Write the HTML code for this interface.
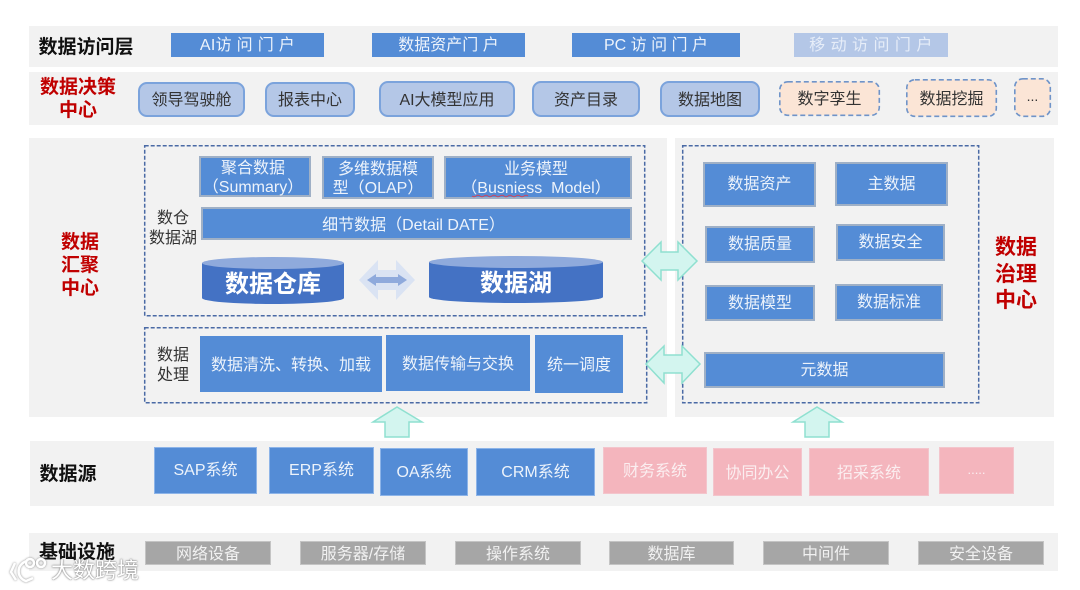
<!DOCTYPE html>
<html lang="zh-CN">
<head>
<meta charset="utf-8">
<title>数据架构图</title>
<style>
html,body{margin:0;padding:0;background:#fff}
#p{position:relative;width:1080px;height:590px;overflow:hidden;background:#fff;font-family:"Liberation Sans","Noto Sans CJK SC",sans-serif;filter:blur(.35px)}
#p div{position:absolute;box-sizing:border-box}
.bg{background:#f2f2f2}
.b,.g,.r,.pill,.dash,.lab,.t{display:flex;align-items:center;justify-content:center;text-align:center;white-space:nowrap}
.b{background:#548cd6;color:#edf3fb;font-size:16px;line-height:19px}
.gb{border:2px solid #9fb0c6}
.lb{border:1px solid #8db4e8}
.r{background:#f4b5bd;color:#fbeef0;font-size:16px;border:1px solid #f3c5cc;padding-bottom:3px}
.g{background:#a6a6a6;color:#f1f1f1;font-size:16px;border:1px solid #c4c4c4;padding-bottom:2px}
.pill{background:#b4c7e7;color:#333;font-size:16px;border:2px solid #7ba3dc;border-radius:9px;padding-bottom:3px}
.dash{color:#333;font-size:16px;padding-bottom:3px}
.lab{font-weight:700;line-height:23px}
.t{color:#333;font-size:16px;line-height:20px}
svg{position:absolute;left:0;top:0}
</style>
</head>
<body>
<div id="p">
<div class="bg" style="left:29px;top:26px;width:1029px;height:41px"></div>
<div class="bg" style="left:29px;top:72px;width:1029px;height:53px"></div>
<div class="bg" style="left:29px;top:138px;width:638px;height:279px"></div>
<div class="bg" style="left:675px;top:138px;width:379px;height:279px"></div>
<div class="bg" style="left:30px;top:441px;width:1024px;height:65px"></div>
<div class="bg" style="left:29px;top:533px;width:1029px;height:38px"></div>

<svg width="1080" height="590" viewBox="0 0 1080 590">
  <g fill="#fbe5d6" stroke="#6f94c9" stroke-width="1.600" stroke-dasharray="5 3">
    <rect x="779.800" y="81.800" width="99.500" height="33.500" rx="8"/>
    <rect x="906.800" y="79.800" width="89.500" height="36.500" rx="8"/>
    <rect x="1014.800" y="78.800" width="35.500" height="37.500" rx="8"/>
  </g>
  <g fill="none" stroke="#4a6aa5" stroke-width="1.500" stroke-dasharray="4 2">
    <rect x="144.700" y="145.700" width="500" height="170"/>
    <rect x="144.700" y="327.700" width="502" height="75"/>
    <rect x="682.700" y="145.700" width="296" height="257"/>
  </g>
</svg>

<div class="lab" style="left:29px;top:34px;width:114px;height:26px;font-size:19px;color:#111">数据访问层</div>
<div class="b" style="left:171px;top:33px;width:153px;height:24px;letter-spacing:.3px">AI访 问 门 户</div>
<div class="b" style="left:372px;top:33px;width:153px;height:24px">数据资产门 户</div>
<div class="b" style="left:572px;top:33px;width:168px;height:24px">PC 访 问 门 户</div>
<div class="b" style="left:794px;top:33px;width:154px;height:24px;background:#b4c7e7;color:#e6edf8;letter-spacing:.5px">移 动 访 问 门 户</div>

<div class="lab" style="left:29px;top:75px;width:98px;height:48px;font-size:19px;color:#c00000">数据决策<br>中心</div>
<div class="pill" style="left:138px;top:82px;width:107px;height:35px">领导驾驶舱</div>
<div class="pill" style="left:265px;top:82px;width:90px;height:35px">报表中心</div>
<div class="pill" style="left:379px;top:81px;width:136px;height:36px">AI大模型应用</div>
<div class="pill" style="left:532px;top:81px;width:108px;height:36px">资产目录</div>
<div class="pill" style="left:660px;top:81px;width:100px;height:36px">数据地图</div>
<div class="dash" style="left:779px;top:81px;width:101px;height:35px">数字孪生</div>
<div class="dash" style="left:906px;top:79px;width:91px;height:38px">数据挖掘</div>
<div class="dash" style="left:1014px;top:78px;width:37px;height:39px;font-size:14px">...</div>

<div class="lab" style="left:50px;top:231px;width:60px;height:69px;font-size:19px;color:#c00000">数据<br>汇聚<br>中心</div>
<div class="t" style="left:146px;top:209px;width:54px;height:40px">数仓<br>数据湖</div>
<div class="t" style="left:150px;top:346px;width:46px;height:40px">数据<br>处理</div>

<div class="b gb" style="left:199px;top:156px;width:112px;height:41px;padding:2px 4px 0 0">聚合数据<br>（Summary）</div>
<div class="b gb" style="left:322px;top:156px;width:112px;height:43px;padding-top:2px">多维数据模<br>型（OLAP）</div>
<div class="b gb" style="left:444px;top:156px;width:188px;height:43px;padding:2px 4px 0 0">业务模型<br>（Busniess&nbsp; Model）</div>
<div class="b gb" style="left:201px;top:207px;width:431px;height:33px;padding:3px 6px 0 0">细节数据（Detail DATE）</div>

<svg width="1080" height="590" viewBox="0 0 1080 590">
  <path d="M202 263 V298 A71 6 0 0 0 344 298 V263 Z" fill="#4472c4"/>
  <ellipse cx="273" cy="263" rx="71" ry="6" fill="#8faadc"/>
  <path d="M429 262 V297 A87 6 0 0 0 603 297 V262 Z" fill="#4472c4"/>
  <ellipse cx="516" cy="262" rx="87" ry="6" fill="#8faadc"/>
  <polygon points="359,280 378,260 378,270 396,270 396,260 415,280 396,300 396,290 378,290 378,300" fill="#dae3f3"/>
  <polygon points="367,280 376,274 376,277 398,277 398,274 407,280 398,286 398,283 376,283 376,286" fill="#8faadc"/>
  <g fill="#d3f5ef" stroke="#8fe0d0" stroke-width="1.500">
    <polygon points="397,407 373,422 385,422 385,437 409,437 409,422 422,422"/>
    <polygon points="817,407 793,422 805,422 805,437 829,437 829,422 842,422"/>
  </g>
  <path d="M472 196 q2 1.500 4 0 t4 0 t4 0 t4 0 t4 0 t4 0 t4 0 t4 0 t4 0 t4 0 t4 0 t4 0 t4 0 t4 0" stroke="#d0455a" stroke-width="1" fill="none"/>
</svg>
<div class="lab" style="left:202px;top:265px;width:142px;height:38px;font-size:24px;color:#fff">数据仓库</div>
<div class="lab" style="left:429px;top:264px;width:174px;height:38px;font-size:24px;color:#fff">数据湖</div>

<div class="b" style="left:200px;top:336px;width:182px;height:56px;padding-top:2px">数据清洗、转换、加载</div>
<div class="b" style="left:386px;top:335px;width:144px;height:56px;padding-top:2px">数据传输与交换</div>
<div class="b" style="left:535px;top:335px;width:88px;height:58px;padding-top:2px">统一调度</div>

<svg width="1080" height="590" viewBox="0 0 1080 590">
  <g fill="#d3f5ef" stroke="#8fe0d0" stroke-width="1.500">
    <polygon points="642,261 661,242 661,252 678,252 678,242 697,261 678,280 678,270 661,270 661,280"/>
    <polygon points="646,364 664,346 664,355 682,355 682,346 700,364 682,383 682,373 664,373 664,383"/>
  </g>
</svg>
<div class="b gb" style="left:703px;top:162px;width:113px;height:45px">数据资产</div>
<div class="b gb" style="left:835px;top:162px;width:113px;height:44px">主数据</div>
<div class="b gb" style="left:705px;top:226px;width:110px;height:37px">数据质量</div>
<div class="b gb" style="left:836px;top:224px;width:109px;height:37px">数据安全</div>
<div class="b gb" style="left:705px;top:285px;width:110px;height:36px">数据模型</div>
<div class="b gb" style="left:835px;top:284px;width:108px;height:37px">数据标准</div>
<div class="b gb" style="left:704px;top:352px;width:241px;height:36px">元数据</div>
<div class="lab" style="left:986px;top:234px;width:60px;height:80px;font-size:21px;line-height:26.500px;color:#c00000;transform:translateY(1px)">数据<br>治理<br>中心</div>

<div class="lab" style="left:30px;top:461px;width:76px;height:26px;font-size:19px;color:#111">数据源</div>
<div class="b lb" style="left:154px;top:447px;width:103px;height:47px">SAP系统</div>
<div class="b lb" style="left:269px;top:447px;width:105px;height:47px">ERP系统</div>
<div class="b lb" style="left:380px;top:448px;width:88px;height:48px">OA系统</div>
<div class="b lb" style="left:476px;top:448px;width:119px;height:48px">CRM系统</div>
<div class="r" style="left:603px;top:447px;width:104px;height:47px">财务系统</div>
<div class="r" style="left:713px;top:448px;width:89px;height:48px">协同办公</div>
<div class="r" style="left:809px;top:448px;width:120px;height:48px">招采系统</div>
<div class="r" style="left:939px;top:447px;width:75px;height:47px;font-size:13px">.....</div>

<div class="lab" style="left:30px;top:539px;width:94px;height:26px;font-size:19px;color:#111">基础设施</div>
<div class="g" style="left:145px;top:541px;width:126px;height:24px">网络设备</div>
<div class="g" style="left:300px;top:541px;width:126px;height:24px">服务器/存储</div>
<div class="g" style="left:455px;top:541px;width:126px;height:24px">操作系统</div>
<div class="g" style="left:609px;top:541px;width:125px;height:24px">数据库</div>
<div class="g" style="left:763px;top:541px;width:126px;height:24px">中间件</div>
<div class="g" style="left:918px;top:541px;width:126px;height:24px">安全设备</div>

<svg width="1080" height="590" viewBox="0 0 1080 590">
  <g fill="none" stroke="#fff" stroke-width="2.500" style="filter:drop-shadow(0 0 1px #888)">
    <path d="M15 563 L11 572 L16 580"/>
    <path d="M27 561 C16 564 16 578 26 581 L33 578"/>
    <circle cx="30" cy="563" r="4"/>
    <circle cx="41" cy="563" r="4"/>
  </g>
</svg>
<div style="left:51px;top:558px;width:92px;height:26px;font-size:22px;line-height:26px;color:#fff;white-space:nowrap;text-shadow:0 0 2px #777,0 0 1px #777">大数跨境</div>
</div>
</body>
</html>
